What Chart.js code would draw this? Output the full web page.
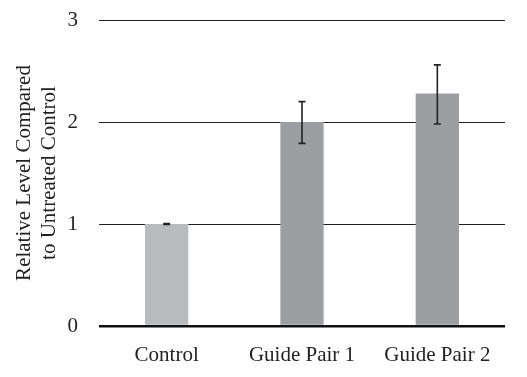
<!DOCTYPE html>
<html>
<head>
  <meta charset="utf-8">
  <title>Relative Level Compared to Untreated Control</title>
  <script src="https://cdn.jsdelivr.net/npm/chart.js"></script>
  <style>
    html, body {
      margin: 0;
      padding: 0;
      background: #fff;
    }
    .chart-box {
      width: 527px;
      height: 377px;
    }
  </style>
</head>
<body>
  <div class="chart-box">
    <canvas id="levelChart"></canvas>
  </div>

  <script>
    // categories and values
    const categories = ['Control', 'Guide Pair 1', 'Guide Pair 2'];
    const levels = [1.0, 2.0, 2.28];
    const errLow = [0.995, 1.79, 1.98];
    const errHigh = [1.005, 2.2, 2.56];
    const barColors = ['#b9babc', '#9d9ea1', '#9d9ea1'];
    const yTicks = [0, 1, 2, 3];

    const serif = '"Liberation Serif", "Times New Roman", serif';

    // draws the error bars on top of the bars using the chart's own scales
    const errorBars = {
      id: 'errorBars',
      afterDatasetsDraw(chart) {
        const ctx = chart.ctx;
        const x = chart.scales.x;
        const y = chart.scales.y;
        ctx.save();
        ctx.strokeStyle = '#222';
        ctx.lineWidth = 1.6;
        categories.forEach((c, i) => {
          const cx = x.getPixelForValue(i);
          const top = y.getPixelForValue(errHigh[i]);
          const bot = y.getPixelForValue(errLow[i]);
          const half = 3.5;
          ctx.beginPath();
          ctx.moveTo(cx, top);
          ctx.lineTo(cx, bot);
          ctx.moveTo(cx - half, top);
          ctx.lineTo(cx + half, top);
          ctx.moveTo(cx - half, bot);
          ctx.lineTo(cx + half, bot);
          ctx.stroke();
        });
        ctx.restore();
      }
    };

    const ctx = document.getElementById('levelChart').getContext('2d');
    const levelChart = new Chart(ctx, {
      type: 'bar',
      data: {
        labels: categories,
        datasets: [{
          data: levels,
          backgroundColor: barColors,
          barPercentage: 0.32,
          categoryPercentage: 1.0
        }]
      },
      options: {
        responsive: true,
        maintainAspectRatio: false,
        animation: false,
        layout: {
          padding: { top: 20, right: 22, bottom: 0, left: 0 }
        },
        plugins: {
          legend: { display: false },
          tooltip: { enabled: false }
        },
        scales: {
          x: {
            grid: { display: false },
            border: { display: false },
            ticks: {
              color: '#222',
              padding: 9,
              font: { family: serif, size: 21 }
            },
            afterFit(scale) {
              scale.height = 51;
            }
          },
          y: {
            min: 0,
            max: 3,
            afterBuildTicks(scale) {
              scale.ticks = yTicks.map(v => ({ value: v }));
            },
            border: { display: false },
            grid: {
              drawTicks: false,
              color: ctx => ctx.tick && ctx.tick.value === 0 ? '#111' : '#1f1f1f',
              lineWidth: ctx => ctx.tick && ctx.tick.value === 0 ? 2.5 : 1
            },
            ticks: {
              color: '#222',
              padding: 21,
              font: { family: serif, size: 21 }
            },
            title: {
              display: true,
              text: ['Relative Level Compared', 'to Untreated Control'],
              color: '#222',
              padding: { top: 12, bottom: 0 },
              font: { family: serif, size: 21, lineHeight: 1.2 }
            },
            afterFit(scale) {
              scale.width = 99;
              scale.paddingTop = 0;
              scale.paddingBottom = 0;
            }
          }
        }
      },
      plugins: [errorBars]
    });
  </script>
</body>
</html>
